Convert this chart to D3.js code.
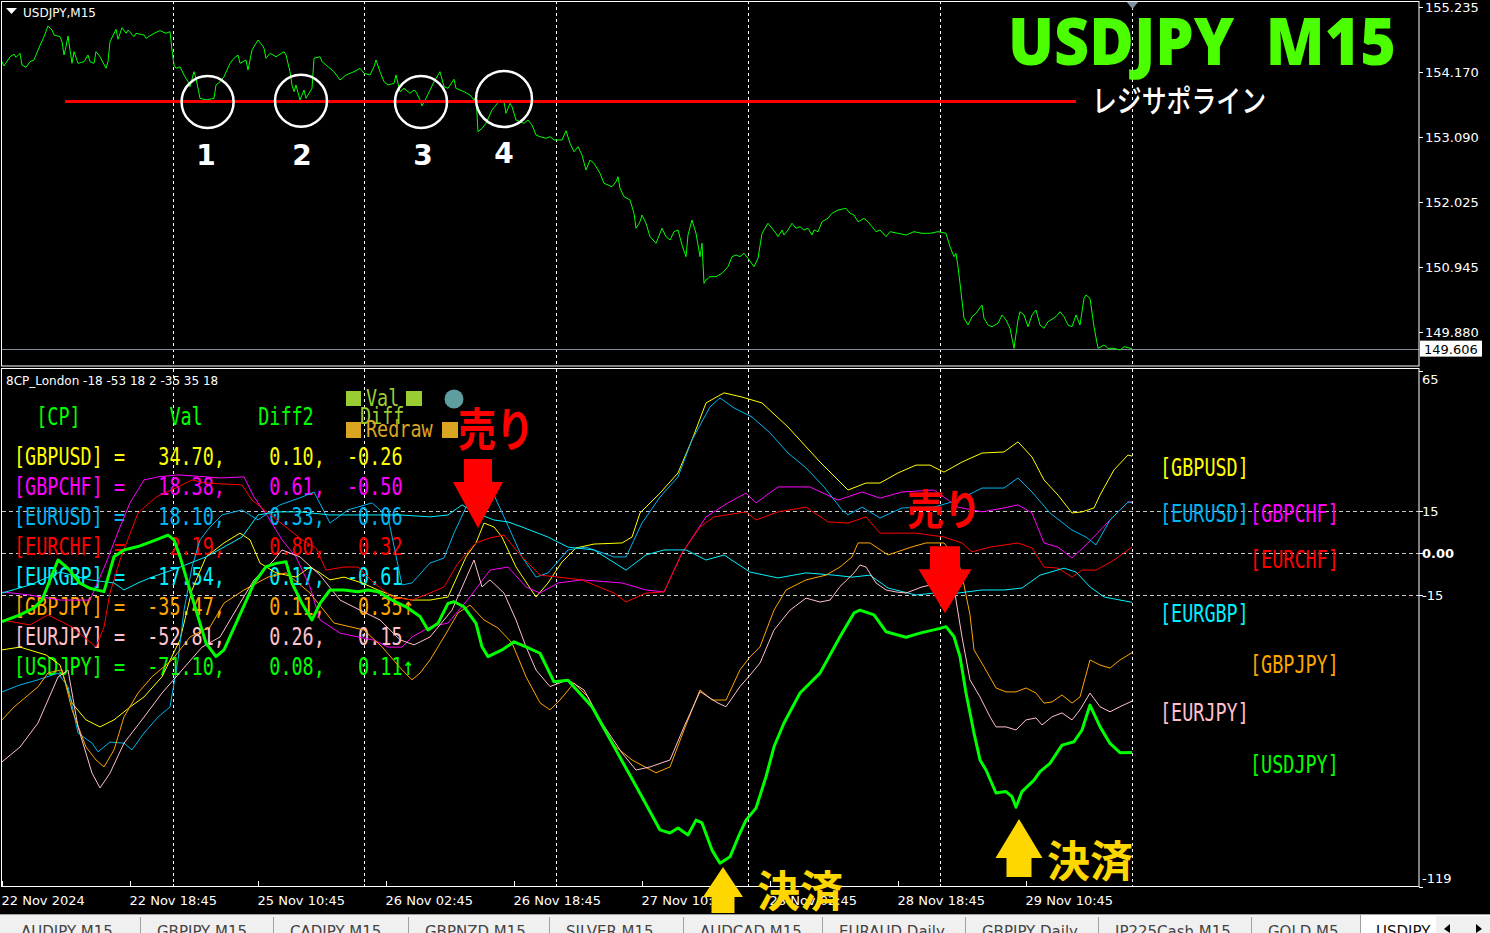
<!DOCTYPE html>
<html><head><meta charset="utf-8">
<script src="https://cdn.jsdelivr.net/npm/d3@7"></script>
<style>body{margin:0;background:#000;overflow:hidden}text{white-space:pre}</style>
</head><body>
<svg id="c" width="1490" height="933"></svg>
<script>
// ---------- DATA ----------
const timeTickBars = [0,64,128,192,256,320,384,448,512];
const timeTickLabels = ["22 Nov 2024","22 Nov 18:45","25 Nov 10:45","26 Nov 02:45","26 Nov 18:45","27 Nov 10:45","28 Nov 02:45","28 Nov 18:45","29 Nov 10:45"];
const separatorBars = [85.5,181,277,373,469,565];
const priceTicks = [155.235,154.170,153.090,152.025,150.945,149.880];
const lastPrice = 149.606;
const resistancePrice = 153.678;
const oscTicks = [65,15,0,-15,-119];
const oscTickLabels = ["65","15","0.00","-15","-119"];
const oscLevels = [15,0,-15];

// USDJPY M15 close [bar, price]
const price = [[0,154.334],[1,154.263],[4,154.416],[6,154.456],[7,154.406],[9,154.472],[10,154.279],[12,154.241],[14,154.334],[16,154.362],[18,154.527],[21,154.746],[23,154.922],[25,154.856],[26,154.774],[29,154.746],[30,154.663],[31,154.444],[32,154.581],[33,154.757],[34,154.527],[35,154.307],[36,154.499],[38,154.307],[41,154.334],[43,154.444],[44,154.334],[46,154.307],[47,154.499],[49,154.416],[52,154.225],[53,154.334],[54,154.663],[57,154.868],[58,154.703],[60,154.894],[62,154.802],[63,154.856],[66,154.746],[67,154.802],[71,154.774],[72,154.719],[76,154.802],[79,154.845],[82,154.802],[84,154.828],[85,154.527],[86,154.279],[87,154.225],[89,154.251],[91,154.115],[93,154.004],[94,153.922],[96,154.169],[97,154.060],[99,153.731],[102,153.703],[106,153.731],[107,153.950],[109,154.004],[111,154.087],[114,154.307],[116,154.390],[118,154.444],[119,154.307],[122,154.362],[123,154.197],[125,154.527],[128,154.691],[130,154.609],[131,154.555],[132,154.390],[134,154.472],[137,154.416],[141,154.499],[142,154.444],[144,154.169],[145,153.950],[146,153.839],[147,153.950],[149,153.703],[151,153.867],[152,153.731],[155,153.895],[156,154.390],[159,154.416],[160,154.334],[162,154.279],[166,154.169],[169,154.032],[172,154.115],[176,154.169],[179,154.225],[181,154.143],[184,154.115],[186,154.251],[187,154.362],[189,154.169],[191,154.004],[193,153.950],[196,153.978],[197,154.115],[199,153.839],[201,153.895],[204,153.813],[206,153.867],[207,153.839],[209,153.703],[210,153.604],[212,153.731],[216,154.004],[219,154.169],[221,153.922],[223,153.895],[226,154.044],[227,153.895],[231,153.839],[234,153.785],[236,153.703],[237,153.757],[238,153.180],[240,153.236],[242,153.319],[245,153.538],[247,153.620],[249,153.703],[251,153.675],[252,153.484],[254,153.648],[255,153.592],[257,153.373],[261,153.319],[263,153.373],[265,153.291],[267,153.126],[269,153.098],[272,153.072],[274,153.098],[276,153.044],[280,153.044],[282,153.197],[284,152.989],[286,152.851],[288,152.933],[290,152.796],[292,152.549],[294,152.714],[296,152.660],[299,152.495],[301,152.330],[303,152.302],[305,152.274],[307,152.357],[308,152.439],[309,152.248],[311,152.109],[314,152.055],[316,151.836],[317,151.589],[319,151.697],[320,151.808],[322,151.671],[324,151.450],[327,151.342],[330,151.589],[332,151.450],[334,151.396],[336,151.533],[338,151.561],[340,151.313],[342,151.121],[343,151.478],[345,151.725],[347,151.506],[349,151.121],[350,151.342],[351,150.682],[352,150.737],[354,150.791],[357,150.791],[360,150.847],[363,150.956],[365,151.121],[367,151.149],[369,151.121],[371,151.177],[373,151.094],[376,150.956],[378,151.094],[380,151.506],[383,151.671],[387,151.506],[388,151.450],[390,151.561],[391,151.478],[393,151.561],[395,151.671],[397,151.589],[399,151.615],[401,151.561],[403,151.589],[405,151.478],[406,151.561],[408,151.533],[410,151.697],[413,151.753],[415,151.836],[418,151.890],[422,151.918],[424,151.836],[426,151.808],[428,151.697],[431,151.753],[433,151.697],[435,151.615],[437,151.533],[439,151.561],[442,151.450],[444,151.533],[448,151.506],[452,151.478],[456,151.533],[460,151.506],[464,151.506],[468,151.533],[472,151.506],[474,151.285],[476,151.121],[477,151.177],[478,150.956],[479,150.682],[481,150.106],[483,149.995],[485,150.132],[487,150.188],[490,150.325],[491,150.106],[493,149.995],[495,149.967],[498,150.023],[500,150.160],[502,150.078],[504,149.941],[506,149.611],[508,150.078],[509,150.214],[511,150.160],[513,149.967],[515,150.160],[517,150.242],[519,149.995],[521,149.941],[523,150.050],[527,150.132],[529,150.214],[531,150.132],[533,149.995],[535,149.967],[537,150.160],[539,149.995],[541,150.435],[542,150.490],[544,150.435],[546,149.967],[548,149.611],[551,149.666],[553,149.611],[556,149.611],[559,149.583],[561,149.638],[565,149.606]];

// 8CP strength lines [bar, value]
const gbpusd = [[0,-34.5],[9,-33.5],[22,-36.3],[29,-39.9],[35,-53.5],[42,-59.5],[49,-62.0],[56,-59.5],[64,-54.9],[71,-51.3],[80,-44.1],[89,-30.9],[95,-13.1],[102,-1.3],[111,3.7],[119,7.2],[124,4.8],[129,-3.5],[137,-7.0],[147,-8.5],[154,-4.9],[159,-7.0],[164,-9.5],[171,-8.5],[180,-10.6],[188,-13.1],[197,-15.6],[205,-16.7],[214,-16.7],[223,-15.6],[232,-1.3],[237,3.7],[241,10.8],[246,9.4],[250,5.8],[257,-4.9],[267,-15.6],[273,-10.6],[280,-3.1],[287,1.9],[296,3.3],[310,3.7],[315,5.8],[319,14.4],[329,21.5],[338,28.7],[345,40.5],[352,53.7],[361,57.3],[370,55.8],[380,53.7],[393,45.1],[409,32.6],[423,22.6],[432,25.1],[439,25.1],[448,28.7],[457,31.5],[464,31.5],[471,29.0],[480,32.6],[490,35.8],[501,36.2],[508,39.8],[515,34.4],[521,26.2],[528,20.8],[535,14.4],[540,14.8],[546,16.2],[549,20.8],[556,29.8],[563,35.1],[565,34.7]];
const gbpchf = [[0,-13.8],[14,-14.9],[29,-16.7],[44,-16.7],[52,-3.5],[59,9.4],[64,18.0],[71,26.2],[78,27.3],[88,28.0],[102,27.3],[109,26.9],[121,27.3],[126,20.1],[133,13.0],[140,4.8],[147,-1.3],[154,-12.0],[159,-23.8],[169,-28.5],[178,-29.9],[186,-31.0],[193,-33.5],[200,-33.5],[205,-29.9],[214,-26.3],[223,-24.9],[234,-15.6],[244,-6.0],[253,-4.9],[262,-12.0],[269,-14.2],[278,-10.6],[290,-9.5],[310,-10.6],[322,-13.1],[331,-13.8],[340,0.1],[352,13.0],[363,18.0],[372,21.5],[377,18.0],[388,23.7],[404,23.7],[418,19.0],[430,21.9],[439,19.7],[450,21.9],[466,22.6],[478,16.5],[490,14.8],[501,16.2],[508,17.3],[515,14.4],[521,3.7],[528,2.2],[535,-1.7],[542,3.0],[554,11.9],[563,18.3],[565,18.4]];
const eurusd = [[0,-49.5],[9,-47.0],[18,-45.2],[28,-42.8],[33,-47.7],[38,-64.2],[45,-67.8],[48,-70.9],[54,-67.4],[61,-67.8],[65,-70.2],[71,-64.2],[78,-58.5],[84,-54.9],[88,-38.1],[91,-20.3],[95,-4.9],[99,4.8],[104,9.4],[110,13.7],[120,15.5],[128,11.9],[139,17.3],[150,20.1],[156,21.9],[164,10.8],[173,15.5],[185,18.0],[193,13.0],[200,-11.3],[205,-10.6],[214,-3.5],[221,-1.7],[226,7.2],[232,16.5],[240,17.3],[246,20.8],[251,13.0],[260,-1.3],[267,-8.5],[273,-7.0],[283,1.2],[292,2.2],[306,-1.3],[312,-1.3],[320,10.8],[329,20.1],[338,27.3],[345,40.5],[354,52.3],[359,55.5],[366,51.9],[375,48.7],[384,43.0],[393,35.8],[402,30.5],[411,23.7],[420,15.5],[423,13.7],[430,16.5],[439,12.6],[450,16.2],[466,16.5],[478,19.0],[490,23.3],[501,23.3],[508,26.9],[515,21.9],[524,14.4],[535,8.3],[542,5.8],[547,3.0],[554,11.9],[563,18.3],[565,18.1]];
const eurchf = [[0,-23.8],[14,-25.6],[23,-22.0],[35,-26.3],[47,-33.5],[51,-26.3],[54,-14.2],[59,-2.4],[68,14.4],[77,20.1],[88,23.7],[95,26.2],[102,25.1],[120,24.4],[125,19.0],[133,14.4],[142,9.4],[150,4.8],[157,1.9],[162,-6.0],[171,-4.9],[178,-4.9],[186,-10.6],[195,-15.6],[205,-16.7],[214,-14.2],[221,-12.0],[228,-3.5],[237,3.7],[244,5.5],[251,6.5],[260,-1.3],[269,-7.8],[278,-8.5],[290,-9.5],[306,-14.2],[312,-17.4],[322,-14.2],[331,-13.8],[340,0.1],[349,9.4],[356,13.0],[372,14.8],[377,11.9],[388,14.8],[402,16.5],[413,11.2],[423,10.8],[432,13.0],[439,7.2],[446,7.2],[457,7.2],[471,5.8],[480,3.7],[485,0.5],[494,2.2],[508,3.7],[515,1.9],[521,-4.9],[528,-5.3],[535,-8.5],[540,-6.0],[547,-6.0],[556,-2.4],[565,2.2]];
const eurgbp = [[0,-14.2],[14,-11.3],[29,-6.7],[44,-9.5],[56,-10.6],[61,-13.1],[68,-10.6],[75,-8.5],[85,-6.0],[102,-1.3],[120,5.8],[128,13.7],[137,14.8],[149,14.8],[164,13.7],[179,13.7],[199,13.7],[214,13.0],[223,13.7],[230,17.3],[237,14.4],[246,11.9],[253,11.2],[260,9.4],[273,5.8],[283,2.2],[296,1.2],[312,-6.0],[322,-0.6],[331,1.2],[342,1.2],[352,-2.4],[361,-0.6],[374,-6.7],[388,-8.8],[402,-7.0],[416,-7.8],[425,-8.5],[434,-7.8],[443,-12.4],[457,-14.9],[466,-14.2],[478,-14.2],[490,-13.1],[501,-13.1],[510,-12.4],[519,-7.8],[531,-5.3],[537,-6.7],[544,-12.0],[551,-15.6],[565,-17.5]];
const gbpjpy = [[0,-59.5],[6,-54.9],[18,-47.7],[23,-42.7],[30,-41.6],[35,-55.9],[42,-69.2],[47,-73.8],[51,-76.3],[56,-70.2],[61,-58.4],[68,-49.9],[75,-44.1],[85,-38.1],[94,-29.9],[104,-26.3],[111,-17.8],[121,-13.1],[133,-8.5],[142,-7.0],[154,-14.2],[166,-24.9],[181,-27.4],[190,-33.4],[200,-41.6],[205,-45.2],[209,-42.8],[214,-38.1],[221,-29.9],[228,-21.3],[234,-18.5],[241,-23.8],[248,-26.7],[255,-32.0],[262,-44.1],[269,-53.4],[274,-55.9],[279,-52.4],[286,-46.3],[293,-51.3],[300,-61.9],[307,-69.2],[315,-73.8],[327,-78.4],[334,-76.3],[341,-63.1],[349,-48.8],[355,-52.4],[362,-52.4],[369,-41.6],[374,-37.0],[379,-33.4],[386,-20.3],[392,-13.1],[402,-9.5],[412,-7.8],[419,-4.9],[425,-1.3],[428,3.7],[434,3.7],[443,-0.6],[455,2.3],[462,3.7],[471,3.7],[478,-2.4],[481,-11.3],[484,-22.0],[486,-34.5],[491,-40.5],[497,-48.1],[502,-49.5],[507,-49.5],[512,-48.1],[517,-49.9],[521,-53.5],[525,-53.1],[530,-50.6],[535,-53.5],[539,-51.3],[544,-38.1],[549,-39.9],[554,-41.0],[559,-38.1],[565,-35.5]];
const eurjpy = [[0,-74.5],[9,-69.2],[18,-60.6],[28,-44.2],[33,-41.7],[38,-62.0],[45,-78.5],[49,-83.8],[54,-78.5],[61,-67.8],[71,-58.5],[80,-49.9],[90,-41.7],[100,-33.5],[109,-29.9],[119,-17.8],[126,-9.5],[136,-2.4],[140,1.2],[149,-1.3],[159,-7.8],[169,-16.7],[179,-20.3],[189,-23.8],[199,-30.9],[206,-32.7],[214,-29.9],[225,-20.3],[236,-2.4],[240,-12.0],[244,-9.5],[251,-14.2],[257,-23.8],[262,-33.4],[267,-41.7],[274,-47.6],[283,-45.2],[291,-48.8],[300,-60.6],[310,-71.3],[317,-77.4],[324,-76.3],[334,-73.8],[341,-62.0],[349,-49.4],[358,-53.5],[362,-54.8],[369,-47.6],[374,-43.5],[379,-39.2],[386,-27.4],[394,-20.3],[402,-16.0],[409,-17.4],[414,-16.7],[419,-11.9],[426,-7.0],[429,-4.2],[432,-4.9],[437,-10.6],[442,-13.1],[447,-13.8],[452,-14.2],[460,-12.0],[469,-10.6],[476,-11.3],[477,-16.7],[480,-29.9],[484,-45.2],[489,-51.3],[494,-58.4],[497,-62.0],[502,-62.0],[507,-63.1],[512,-59.5],[517,-58.8],[520,-61.3],[525,-58.4],[530,-57.0],[535,-59.5],[539,-55.9],[544,-49.9],[549,-54.8],[554,-56.6],[559,-54.8],[565,-52.8]];
const usdjpy = [[0,-24.4],[9,-22.0],[16,-19.5],[20,-16.7],[28,-2.4],[33,-5.4],[39,-10.7],[44,-12.5],[51,-13.7],[56,-1.2],[61,1.2],[68,2.4],[77,4.8],[83,6.5],[86,4.8],[89,-1.2],[92,-8.4],[97,-20.3],[102,-32.1],[107,-36.9],[111,-34.5],[120,-20.3],[126,-10.7],[132,-4.8],[137,-3.6],[142,-3.0],[145,-10.7],[150,-17.9],[155,-23.8],[159,-17.9],[164,-13.1],[171,-13.1],[178,-13.7],[183,-13.1],[188,-13.7],[195,-16.7],[202,-19.1],[209,-22.6],[213,-27.4],[218,-25.0],[223,-17.9],[226,-17.3],[231,-19.1],[237,-25.0],[240,-33.4],[243,-36.9],[250,-34.5],[256,-31.6],[262,-33.4],[269,-35.7],[276,-45.9],[283,-45.3],[295,-54.8],[307,-70.3],[319,-85.7],[329,-98.8],[334,-99.9],[338,-98.1],[343,-100.6],[347,-95.3],[350,-96.3],[355,-106.0],[359,-110.7],[364,-108.4],[369,-99.9],[372,-95.3],[377,-91.0],[382,-79.8],[386,-69.1],[391,-60.6],[399,-49.9],[409,-42.8],[419,-29.8],[426,-21.3],[429,-20.3],[436,-22.0],[442,-28.0],[452,-30.0],[459,-28.5],[469,-26.8],[472,-26.2],[476,-29.8],[479,-36.9],[482,-49.9],[486,-64.2],[489,-73.8],[492,-77.4],[497,-85.6],[502,-85.1],[505,-86.9],[507,-90.7],[510,-85.1],[516,-81.0],[519,-78.0],[524,-75.0],[530,-68.5],[536,-67.3],[540,-63.1],[544,-54.2],[549,-61.9],[554,-67.9],[559,-71.2],[565,-71.1]];

// table values
const pairNames = ["GBPUSD","GBPCHF","EURUSD","EURCHF","EURGBP","GBPJPY","EURJPY","USDJPY"];
const pairColors = ["#ffff00","#ff00ff","#00b4f0","#ff0000","#00f0ff","#ffa500","#ffc0cb","#00ff00"];
const pairVal = [34.70,18.38,18.10,2.19,-17.54,-35.47,-52.81,-71.10];
const pairDiff2 = [0.10,0.61,0.33,0.80,0.17,0.11,0.26,0.08];
const pairDiff = [-0.26,-0.50,0.06,0.32,-0.61,0.35,0.15,0.11];
const pairArrow = ["","","","","","↑","","↑"];
const seriesData = [gbpusd,gbpchf,eurusd,eurchf,eurgbp,gbpjpy,eurjpy,usdjpy];
const labelCol = [0,1,0,1,0,1,0,1];
const labelBase = [476,522,522,568,622,673,721,773];

const tabNames = ["AUDJPY,M15","GBPJPY,M15","CADJPY,M15","GBPNZD,M15","SILVER,M15","AUDCAD,M15","EURAUD,Daily","GBPJPY,Daily","JP225Cash,M15","GOLD,M5"];
const tabEdges = [0,140,273,408,549,683,822,965,1098,1251,1360];

// ---------- SCALES ----------
const W=1490,H=933;
const x = d3.scaleLinear().domain([0,565]).range([2,1132]);
const yP = d3.scaleLinear().domain([149.880,155.235]).range([332,7]);
const yL = d3.scaleLinear().domain([-119,65]).range([886.5,371.3]);
const TOP={y0:1,y1:366}, LOW={y0:369,y1:887}, RX=1419;

const svg = d3.select("#c");
svg.append("rect").attr("width",W).attr("height",H).attr("fill","#000");
const defs = svg.append("defs");
defs.append("clipPath").attr("id","clipTop").append("rect").attr("x",2).attr("y",2).attr("width",RX-2).attr("height",TOP.y1-2);
defs.append("clipPath").attr("id","clipLow").append("rect").attr("x",2).attr("y",LOW.y0+1).attr("width",RX-2).attr("height",LOW.y1-LOW.y0-1);

const AX = "DejaVu Sans, sans-serif";
const MONO = "DejaVu Sans Mono, monospace";
const JP = "Noto Sans CJK JP, sans-serif";

// ---------- GRID ----------
const grid = svg.append("g");
separatorBars.forEach(b=>{
  const px = Math.round(x(b))+0.5;
  [[TOP.y0,TOP.y1],[LOW.y0,LOW.y1]].forEach(([a,c])=>{
    grid.append("line").attr("x1",px).attr("x2",px).attr("y1",a).attr("y2",c)
      .attr("stroke","#fff").attr("stroke-dasharray","3,3").attr("stroke-width",1);
  });
});
oscLevels.forEach(v=>{
  const py = Math.round(yL(v))+0.5;
  grid.append("line").attr("x1",2).attr("x2",RX).attr("y1",py).attr("y2",py)
    .attr("stroke","#c8c8c8").attr("stroke-dasharray","4,3");
});

// ---------- TOP PANEL ----------
const topG = svg.append("g").attr("clip-path","url(#clipTop)");
topG.append("line").attr("x1",2).attr("x2",RX).attr("y1",Math.round(yP(lastPrice))+0.5).attr("y2",Math.round(yP(lastPrice))+0.5).attr("stroke","#7f8c98");
topG.append("path").datum(price)
  .attr("d",d3.line().x(d=>x(d[0])).y(d=>yP(d[1])))
  .attr("fill","none").attr("stroke","#00ff00").attr("stroke-width",1);
topG.append("line").attr("x1",x(31.5)).attr("x2",x(537)).attr("y1",yP(resistancePrice)).attr("y2",yP(resistancePrice))
  .attr("stroke","#ff0000").attr("stroke-width",3);
const touchBars=[102.8,149.5,209.5,251], touchPrices=[153.67,153.69,153.67,153.72], touchR=[26,26,26,28];
const numberBars=[102,150,210.5,251];
touchBars.forEach((b,i)=>{
  topG.append("circle").attr("cx",x(b)).attr("cy",yP(touchPrices[i])).attr("r",touchR[i])
    .attr("fill","none").attr("stroke","#fff").attr("stroke-width",2.5);
  topG.append("text").attr("x",x(numberBars[i])).attr("y",165-(i==3?2:0)).attr("text-anchor","middle")
    .attr("font-family","DejaVu Sans, sans-serif").attr("font-weight","bold").attr("font-size",28)
    .attr("fill","#fff").text(String(i+1));
});
svg.append("text").attr("x",1008).attr("y",65).attr("font-family","Open Sans, sans-serif").attr("font-weight","800")
  .attr("font-size",66).attr("fill","#4cff00").attr("textLength",388).attr("lengthAdjust","spacingAndGlyphs").text("USDJPY  M15");
svg.append("text").attr("x",1092).attr("y",112).attr("font-family",JP).attr("font-weight","500")
  .attr("font-size",31).attr("fill","#fff").attr("textLength",174).attr("lengthAdjust","spacingAndGlyphs").text("レジサポライン");
svg.append("path").attr("d","M6,8 L17,8 L11.5,14 Z").attr("fill","#fff");
svg.append("text").attr("x",23).attr("y",17).attr("font-family",AX).attr("font-size",12).attr("fill","#fff").text("USDJPY,M15");
svg.append("path").attr("d",`M${x(565)-6},1 L${x(565)+7},1 L${x(565)+0.5},9 Z`).attr("fill","#8090a0");

priceTicks.forEach(p=>{
  const py=Math.round(yP(p))+0.5;
  svg.append("line").attr("x1",RX).attr("x2",RX+4).attr("y1",py).attr("y2",py).attr("stroke","#fff");
  svg.append("text").attr("x",1425).attr("y",py+4.5).attr("font-family",AX).attr("font-size",13).attr("fill","#fff").text(p.toFixed(3));
});
svg.append("rect").attr("x",1420).attr("y",yP(lastPrice)-8).attr("width",62).attr("height",16).attr("fill","#fff");
svg.append("text").attr("x",1424).attr("y",yP(lastPrice)+5).attr("font-family",AX).attr("font-size",13).attr("fill","#000").text(lastPrice.toFixed(3));

// ---------- LOWER PANEL ----------
svg.append("text").attr("x",6).attr("y",385).attr("font-family",AX).attr("font-size",12).attr("fill","#fff")
  .text("8CP_London -18 -53 18 2 -35 35 18");

const CW=11.1;
function monoText(g,str,xx,yy,col,size){
  g.append("text").attr("x",xx).attr("y",yy).attr("font-family",MONO).attr("font-size",size||25)
    .attr("fill",col).attr("textLength",str.length*CW).attr("lengthAdjust","spacingAndGlyphs").text(str);
}
const tbl = svg.append("g");
monoText(tbl,"  [CP]        Val     Diff2",14,425,"#00ff00");
pairNames.forEach((n,i)=>{
  const s = `[${n}] =  ${pairVal[i].toFixed(2).padStart(6)},    ${pairDiff2[i].toFixed(2)},${pairDiff[i].toFixed(2).padStart(7)}${pairArrow[i]}`;
  monoText(tbl,s,14,465+30*i,pairColors[i]);
});
tbl.append("rect").attr("x",346).attr("y",391).attr("width",15).attr("height",15).attr("fill","#9acd32");
tbl.append("rect").attr("x",406).attr("y",391).attr("width",16).attr("height",15).attr("fill","#9acd32");
monoText(tbl,"Val",366,406,"#9acd32",23);
monoText(tbl,"Diff",360,424,"#9acd32",23);
tbl.append("rect").attr("x",346).attr("y",422).attr("width",15).attr("height",16).attr("fill","#daa520");
tbl.append("rect").attr("x",442).attr("y",422).attr("width",16).attr("height",16).attr("fill","#daa520");
monoText(tbl,"Redraw",366,437,"#daa520",23);
tbl.append("circle").attr("cx",454).attr("cy",399).attr("r",9.5).attr("fill","#5f9ea0");

pairNames.forEach((n,i)=>{
  monoText(tbl,`[${n}]`, labelCol[i]?1250:1160, labelBase[i], pairColors[i]);
});

const lowG = svg.append("g").attr("clip-path","url(#clipLow)");
const lineL = d3.line().x(d=>x(d[0])).y(d=>yL(d[1]));
seriesData.forEach((s,i)=>{
  lowG.append("path").datum(s).attr("d",lineL).attr("fill","none")
    .attr("stroke",pairColors[i]).attr("stroke-width",i===7?3:1).attr("stroke-linejoin","round");
});

oscTicks.forEach((v,i)=>{
  const py=Math.round(yL(v))+0.5;
  svg.append("line").attr("x1",RX).attr("x2",RX+4).attr("y1",py).attr("y2",py).attr("stroke","#fff");
  const off = v===65?12:(v===-119?-5:4.5);
  svg.append("text").attr("x",1422).attr("y",py+off).attr("font-family",AX).attr("font-size",13)
    .attr("font-weight",v===0?"bold":"normal").attr("fill","#fff").text(oscTickLabels[i]);
});

// ---------- FRAMES ----------
const fr = svg.append("g").attr("fill","none").attr("stroke","#fff");
fr.append("rect").attr("x",1.5).attr("y",1.5).attr("width",RX-1.5).attr("height",TOP.y1-1.5);
fr.append("rect").attr("x",1.5).attr("y",LOW.y0-0.5).attr("width",RX-1.5).attr("height",LOW.y1-LOW.y0);

timeTickBars.forEach((b,i)=>{
  const px=Math.round(x(b))+0.5;
  svg.append("line").attr("x1",px).attr("x2",px).attr("y1",LOW.y1-6).attr("y2",LOW.y1).attr("stroke","#fff");
  svg.append("text").attr("x",px-1).attr("y",905).attr("font-family",AX).attr("font-size",13).attr("fill","#fff").text(timeTickLabels[i]);
});
separatorBars.slice(0,5).forEach(b=>{
  const px=Math.round(x(b))+0.5;
  svg.append("line").attr("x1",px).attr("x2",px).attr("y1",LOW.y1-3).attr("y2",LOW.y1).attr("stroke","#fff");
});

// tabs
const tb = svg.append("g");
tb.append("rect").attr("x",0).attr("y",914).attr("width",W).attr("height",19).attr("fill","#f0f0f0");
tb.append("line").attr("x1",0).attr("x2",W).attr("y1",914.5).attr("y2",914.5).attr("stroke","#a0a0a0");
tabNames.forEach((t,i)=>{
  tb.append("text").attr("x",tabEdges[i]+(i==0?21:17)).attr("y",937).attr("font-family",AX).attr("font-size",15).attr("fill","#444").text(t);
  if(i>0) tb.append("line").attr("x1",tabEdges[i]+0.5).attr("x2",tabEdges[i]+0.5).attr("y1",917).attr("y2",933).attr("stroke","#a0a0a0");
});
tb.append("rect").attr("x",1361).attr("y",915).attr("width",129).attr("height",18).attr("fill","#fff");
tb.append("line").attr("x1",1360.5).attr("x2",1360.5).attr("y1",915).attr("y2",933).attr("stroke","#a0a0a0");
tb.append("text").attr("x",1376).attr("y",937).attr("font-family",AX).attr("font-size",15).attr("fill","#111").text("USDJPY");
tb.append("rect").attr("x",1436).attr("y",916).attr("width",54).attr("height",17).attr("fill","#f0f0f0");
tb.append("path").attr("d","M1444,929 L1450,924 L1450,933 Z").attr("fill","#000");
tb.append("path").attr("d","M1476,924 L1482,929 L1476,933 Z").attr("fill","#000");

// ---------- ANNOTATIONS (sell / close signals) ----------
const ann = svg.append("g");
function downArrow(b,v,sw,hw,sl,hl){
  const cx=x(b), ty=yL(v);
  ann.append("path").attr("d",`M${cx-sw/2},${ty-hl-sl} L${cx+sw/2},${ty-hl-sl} L${cx+sw/2},${ty-hl} L${cx+hw/2},${ty-hl} L${cx},${ty} L${cx-hw/2},${ty-hl} L${cx-sw/2},${ty-hl} Z`).attr("fill","#ff0000");
}
function upArrow(b,v,sw,hw,sl,hl){
  const cx=x(b), ty=yL(v);
  ann.append("path").attr("d",`M${cx-sw/2},${ty+hl+sl} L${cx+sw/2},${ty+hl+sl} L${cx+sw/2},${ty+hl} L${cx+hw/2},${ty+hl} L${cx},${ty} L${cx-hw/2},${ty+hl} L${cx-sw/2},${ty+hl} Z`).attr("fill","#ffd700");
}
downArrow(238,9.0,28,50,23,46);
downArrow(471.5,-21.4,30,53,23,44);
upArrow(360.5,-112,23,40,16,30);
upArrow(508.5,-94.9,25,47,19,39);
ann.append("text").attr("x",458).attr("y",446).attr("font-family",JP).attr("font-weight","bold").attr("font-size",46)
  .attr("fill","#ff0000").attr("textLength",76).attr("lengthAdjust","spacingAndGlyphs").text("売り");
ann.append("text").attr("x",907).attr("y",525).attr("font-family",JP).attr("font-weight","bold").attr("font-size",42)
  .attr("fill","#ff0000").attr("textLength",74).attr("lengthAdjust","spacingAndGlyphs").text("売り");
ann.append("text").attr("x",757).attr("y",907).attr("font-family",JP).attr("font-weight","bold").attr("font-size",43)
  .attr("fill","#ffd700").attr("textLength",86).attr("lengthAdjust","spacingAndGlyphs").text("決済");
ann.append("text").attr("x",1047).attr("y",877).attr("font-family",JP).attr("font-weight","bold").attr("font-size",43)
  .attr("fill","#ffd700").attr("textLength",86).attr("lengthAdjust","spacingAndGlyphs").text("決済");
</script></body></html>
